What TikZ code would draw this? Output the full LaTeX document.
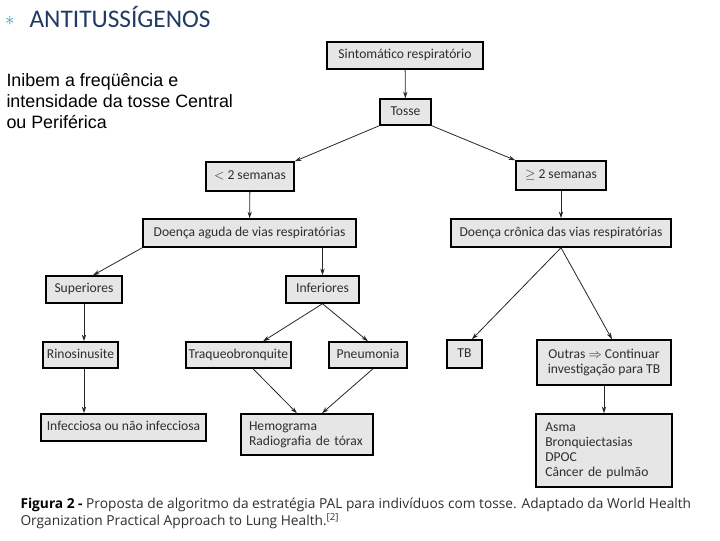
\documentclass[tikz,border=0pt]{standalone}
\usepackage{fontspec}
\setmainfont{Carlito}
\newfontfamily\arialfont{Liberation Sans}
\newfontfamily\legendafont{Open Sans}
\usepackage{tikz}
\usetikzlibrary{arrows.meta}
\usepackage{xcolor}
\definecolor{boxgray}{HTML}{E6E6E6}
\definecolor{boxtext}{HTML}{2E2E2E}
\definecolor{titleblue}{HTML}{1F3A64}
\definecolor{asterblue}{HTML}{3D9AB8}
\tikzset{every picture/.style={line width=0.75pt}}
\tikzset{
  caixa/.style={draw=black, line width=1.1pt, fill=boxgray, text=boxtext, inner sep=2pt,
    font=\fontsize{10.2}{11.25}\selectfont},
  uma/.style={text height=7.2pt, text depth=2.2pt},
  seta/.style={-{Stealth[length=5pt,width=3.2pt]}, line width=0.6pt, draw=black!85}
}

\begin{document}
\begin{tikzpicture}[x=0.75pt,y=0.75pt,yscale=-1,xscale=1]
\useasboundingbox (0,0) rectangle (720,540);

% Title and text
\node[anchor=base west, inner sep=0pt, text=asterblue, font=\fontsize{15}{15}\selectfont] (ast) at (4.5,25) {$\ast$};
\node[anchor=base west, inner sep=0pt, text=titleblue, font=\fontsize{19}{22}\selectfont] (titulo) at (29,27) {ANTITUSSÍGENOS};
\node[anchor=base west, inner sep=0pt, align=left, font=\arialfont\fontsize{13.4}{15.4}\selectfont] (texto) at (6,128)
  {Inibem a freqüência e\\intensidade da tosse Central\\ou Periférica};

% Boxes
\node[caixa, uma, minimum width=117pt, minimum height=20.25pt] (sint) at (405,55.5) {Sintomático respiratório};
\node[caixa, uma, minimum width=38.25pt, minimum height=19.5pt] (tosse) at (405.5,112) {Tosse};
\node[caixa, uma, minimum width=66pt, minimum height=21.75pt] (menos) at (250,176.5) {$<$ 2 semanas};
\node[caixa, uma, minimum width=67.5pt, minimum height=21.75pt] (mais) at (561,175.5) {$\geq$ 2 semanas};
\node[caixa, uma, minimum width=159.75pt, minimum height=21pt] (aguda) at (249.5,233) {Doença aguda de vias respiratórias};
\node[caixa, uma, minimum width=165pt, minimum height=21pt] (cronica) at (561,233) {Doença crônica das vias respiratórias};
\node[caixa, uma, minimum width=57pt, minimum height=20.25pt] (sup) at (84,289.5) {Superiores};
\node[caixa, uma, minimum width=54.75pt, minimum height=20.25pt] (inf) at (322.5,289.5) {Inferiores};
\node[caixa, uma, minimum width=56.25pt, minimum height=19.5pt] (rino) at (80.5,355) {Rinosinusite};
\node[caixa, uma, minimum width=74.25pt, minimum height=19.5pt] (traq) at (238.5,355) {Traqueobronquite};
\node[caixa, uma, minimum width=58.5pt, minimum height=19.5pt] (pneu) at (368,355) {Pneumonia};
\node[caixa, uma, minimum width=26.25pt, minimum height=21pt] (tb) at (464.5,354) {TB};
\node[caixa, minimum width=100.5pt, minimum height=33.75pt, align=center] (outras) at (604,362.5)
  {Outras $\Rightarrow$ Continuar\\investigação para TB};
\node[caixa, uma, minimum width=123.75pt, minimum height=20.25pt] (infec) at (123.5,427.5) {Infecciosa ou não infecciosa};
\node[caixa, minimum height=30.75pt, inner xsep=6pt, inner ysep=4pt, text width=87pt, align=left] (hemo) at (307,434.5)
  {Hemograma\\Radiografia de tórax};
\node[caixa, minimum height=54.75pt, inner xsep=7pt, inner ysep=4pt, text width=88pt, align=left] (lista) at (604,450.5)
  {Asma\\Bronquiectasias\\DPOC\\Câncer de pulmão};

% Arrows
\draw[seta] (sint) -- (tosse);
\draw[seta] (tosse.south west) -- (menos.north east);
\draw[seta] (tosse.south east) -- (mais.north west);
\draw[seta] (menos) -- (aguda);
\draw[seta] (mais) -- (cronica);
\draw[seta] (aguda.south west) -- ([xshift=6.75pt]sup.north);
\draw[seta] (inf.north |- aguda.south) -- (inf.north);
\draw[seta] (sup.south) -- (sup.south |- rino.north);
\draw[seta] (sup.south |- rino.south) -- (sup.south |- infec.north);
\draw[seta] (inf.south) -- ([xshift=18.4pt]traq.north);
\draw[seta] (inf.south) -- (pneu.north);
\draw[seta] ([xshift=10.9pt]traq.south) -- ([xshift=-7.5pt]hemo.north);
\draw[seta] ([xshift=3.75pt]pneu.south) -- ([xshift=11.25pt]hemo.north);
\draw[seta] (cronica.south) -- ([xshift=5.6pt]tb.north);
\draw[seta] (cronica.south) -- ([xshift=6pt]outras.north);
\draw[seta] (outras) -- (lista);

% Caption
\node[anchor=base west, inner sep=0pt, align=left, text=boxtext, font=\legendafont\fontsize{10.3}{12.75}\selectfont] (legenda) at (20,525)
  {\textbf{\color{black}Figura 2 -} Proposta de algoritmo da estratégia PAL para indivíduos com tosse. Adaptado da World Health\\
   Organization Practical Approach to Lung Health.\textsuperscript{[2]}};

\end{tikzpicture}
\end{document}
